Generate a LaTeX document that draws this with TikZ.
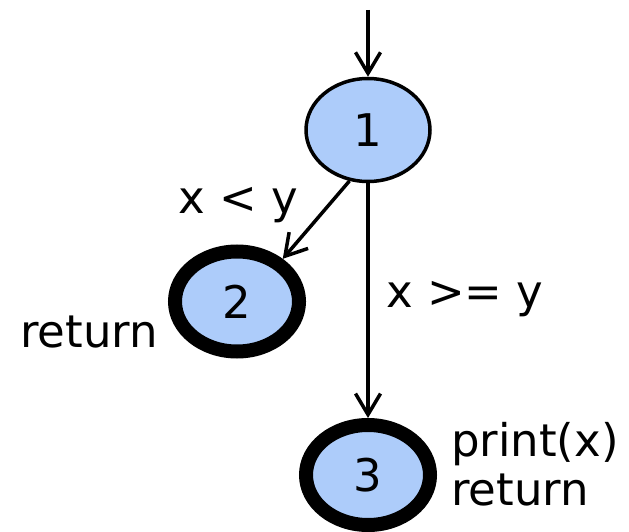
\documentclass[tikz,border=0pt]{standalone}
\usepackage{fontspec}
\setmainfont{DejaVu Sans}
\usetikzlibrary{shapes.geometric,arrows.meta}
\definecolor{nodeblue}{RGB}{173,204,250}
\tikzset{
  state/.style={ellipse, draw=black, fill=nodeblue, minimum width=124pt, minimum height=103pt, inner sep=0pt, font=\fontsize{45}{49}\selectfont},
  thin state/.style={state, line width=3.5pt},
  final state/.style={state, line width=14pt, minimum width=124pt, minimum height=100pt},
  edge/.style={line width=3.5pt, -{Straight Barb[length=21pt,width=25pt]}},
  lbl/.style={font=\fontsize{45}{49}\selectfont, inner sep=0pt},
}
\begin{document}
\begin{tikzpicture}[x=1pt,y=-1pt]
\useasboundingbox (0,0) rectangle (629,532);
\node[thin state] (n1) at (368,130) {1};
\node[final state] (n2) at (237,301.5) {2};
\node[final state] (n3) at (368,475) {3};
\coordinate (start) at (368,10);
\draw[edge] (start) -- (n1.north);
\draw[edge] (n1.-110) -- (n2.43);
\draw[edge] (n1.south) -- (n3.north);
\node[lbl, anchor=base west] (l1) at (178,213) {x < y};
\node[lbl, anchor=base west] (l2) at (386,307) {x >= y};
\node[lbl, anchor=base west] (l3) at (20,347) {return};
\node[lbl, anchor=base west, align=left] (l4) at (451,505) {print(x)\\return};
\end{tikzpicture}
\end{document}
